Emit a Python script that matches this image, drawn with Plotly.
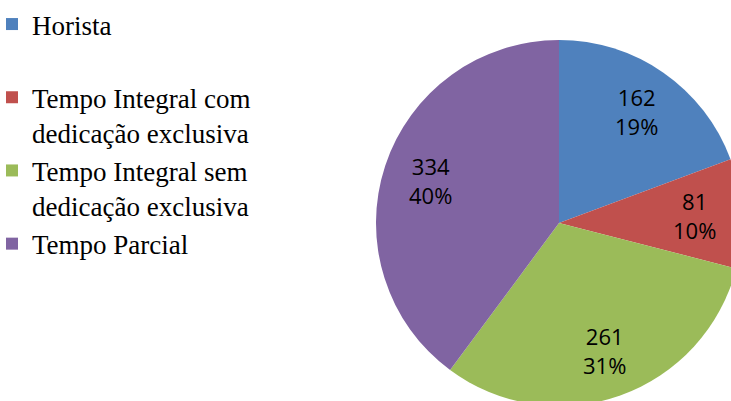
import math
import plotly.graph_objects as go

labels = ["Horista<br>&nbsp;", "Tempo Integral com<br>dedicação exclusiva",
          "Tempo Integral sem<br>dedicação exclusiva", "Tempo Parcial"]
values = [162, 81, 261, 334]
colors = ["#4F81BD", "#C0504D", "#9BBB59", "#8064A2"]

W, H = 745, 410
dom_x = [376 / W, 742 / W]
dom_y = [1 - 406 / H, 1 - 40 / H]

fig = go.Figure(go.Pie(
    labels=labels, values=values, sort=False, direction="clockwise", rotation=0,
    marker=dict(colors=colors, line=dict(width=0)),
    textinfo="none",
    domain=dict(x=dom_x, y=dom_y),
    hoverinfo="skip",
))

# data labels at the middle angle of each slice
total = sum(values)
cx = (dom_x[0] + dom_x[1]) / 2 * W
cy = (1 - (dom_y[0] + dom_y[1]) / 2) * H
R = (dom_x[1] - dom_x[0]) * W / 2
acc = 0
for v in values:
    mid = (acc + v / 2) / total * 2 * math.pi
    acc += v
    r = 0.74 * R
    px = cx + r * math.sin(mid)
    py = cy - r * math.cos(mid)
    fig.add_annotation(
        x=px / W, y=1 - py / H, xref="paper", yref="paper",
        text=f"{v}<br>{v / total:.0%}", showarrow=False,
        font=dict(family="Open Sans", size=22, color="black"),
        xanchor="center", yanchor="middle",
    )

fig.update_layout(
    width=W, height=H, margin=dict(l=0, r=0, t=0, b=0, autoexpand=False),
    paper_bgcolor="white", plot_bgcolor="white",
    showlegend=True,
    legend=dict(x=-8 / W, y=1, xanchor="left", yanchor="top", valign="top",
                font=dict(family="Liberation Serif", size=27, color="black"),
                bgcolor="rgba(0,0,0,0)"),
)
fig.write_html(
    "out.html", config={"displayModeBar": False},
    post_script="document.body.style.margin='0';document.body.style.overflow='hidden';document.documentElement.style.overflow='hidden';")
